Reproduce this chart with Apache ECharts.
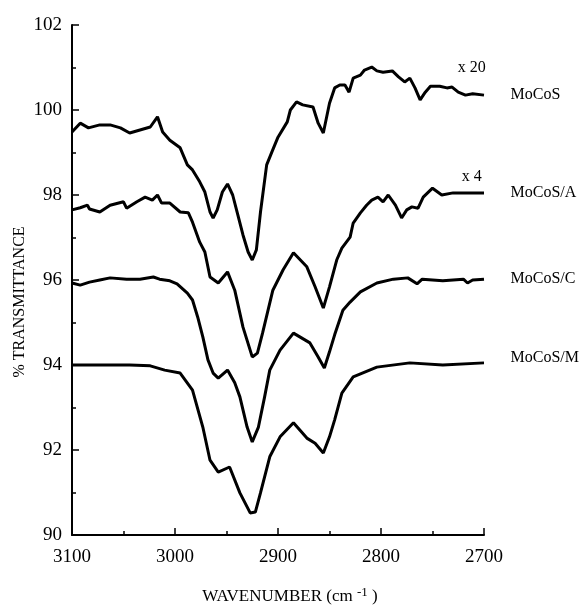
<!DOCTYPE html>
<html>
<head>
<meta charset="utf-8">
<script src="https://cdn.jsdelivr.net/npm/echarts@6/dist/echarts.min.js"></script>
<style>html,body{margin:0;padding:0;background:#fff}#c{width:580px;height:607px}</style>
</head>
<body>
<div id="c"></div>
<script>
// Wavenumbers (cm-1) and % transmittance
const mocos = [[3100,99.48],[3092,99.69],[3084,99.58],[3073,99.65],[3063,99.65],[3053,99.58],[3044,99.46],[3034,99.53],[3024,99.60],[3017,99.84],[3012,99.48],[3005,99.29],[2995,99.11],[2988,98.71],[2983,98.59],[2976,98.31],[2971,98.07],[2966,97.60],[2963,97.46],[2959,97.65],[2954,98.07],[2949,98.26],[2944,98.00],[2939,97.53],[2934,97.06],[2929,96.66],[2925,96.47],[2921,96.71],[2917,97.60],[2911,98.71],[2906,99.01],[2900,99.36],[2891,99.72],[2888,100.0],[2882,100.19],[2876,100.12],[2866,100.07],[2861,99.69],[2856,99.46],[2850,100.16],[2845,100.52],[2840,100.59],[2835,100.59],[2831,100.42],[2827,100.75],[2820,100.82],[2816,100.94],[2809,101.01],[2804,100.92],[2798,100.89],[2789,100.92],[2783,100.78],[2777,100.66],[2772,100.75],[2767,100.52],[2762,100.24],[2757,100.42],[2752,100.56],[2743,100.56],[2736,100.52],[2731,100.54],[2725,100.42],[2718,100.35],[2711,100.38],[2700,100.35]];
const mocosA = [[3100,97.65],[3092,97.70],[3085,97.76],[3083,97.67],[3073,97.60],[3063,97.76],[3050,97.84],[3047,97.69],[3037,97.84],[3029,97.95],[3022,97.88],[3017,98.00],[3013,97.81],[3005,97.81],[2995,97.60],[2987,97.58],[2983,97.36],[2976,96.89],[2971,96.66],[2966,96.07],[2958,95.93],[2949,96.19],[2942,95.76],[2934,94.89],[2925,94.19],[2920,94.28],[2915,94.75],[2905,95.76],[2895,96.24],[2885,96.64],[2872,96.31],[2864,95.84],[2856,95.34],[2850,95.84],[2843,96.47],[2838,96.75],[2830,97.01],[2827,97.34],[2820,97.58],[2814,97.76],[2809,97.88],[2803,97.95],[2798,97.84],[2793,98.00],[2786,97.76],[2780,97.46],[2775,97.65],[2770,97.72],[2764,97.69],[2759,97.95],[2750,98.16],[2741,98.00],[2730,98.05],[2717,98.05],[2700,98.05]];
const mocosC = [[3100,95.93],[3092,95.88],[3083,95.95],[3073,96.00],[3063,96.05],[3047,96.02],[3034,96.02],[3021,96.07],[3015,96.02],[3005,95.98],[2998,95.91],[2988,95.69],[2983,95.53],[2978,95.13],[2973,94.66],[2968,94.12],[2963,93.81],[2958,93.69],[2949,93.88],[2942,93.58],[2937,93.25],[2930,92.54],[2925,92.19],[2919,92.54],[2913,93.25],[2908,93.88],[2898,94.35],[2885,94.75],[2869,94.52],[2861,94.19],[2855,93.93],[2850,94.31],[2845,94.71],[2837,95.29],[2830,95.48],[2820,95.72],[2804,95.93],[2788,96.02],[2774,96.05],[2765,95.91],[2760,96.02],[2740,95.98],[2720,96.02],[2716,95.93],[2711,96.00],[2700,96.02]];
const mocosM = [[3100,94.00],[3073,94.00],[3044,94.00],[3024,93.98],[3010,93.88],[2995,93.81],[2983,93.41],[2973,92.54],[2966,91.76],[2958,91.48],[2947,91.60],[2937,90.99],[2927,90.52],[2922,90.54],[2917,90.99],[2908,91.84],[2898,92.31],[2885,92.64],[2872,92.28],[2864,92.16],[2856,91.93],[2850,92.31],[2845,92.71],[2838,93.34],[2827,93.72],[2804,93.95],[2772,94.05],[2740,94.00],[2700,94.05]];
const seriesNames = ['MoCoS','MoCoS/A','MoCoS/C','MoCoS/M'];
const scaleNotes = [['x 20',2712,100.99],['x 4',2712,98.42]];

const FONT = 'Liberation Serif';
const chart = echarts.init(document.getElementById('c'));
const all = [mocos, mocosA, mocosC, mocosM];
const series = all.map((d, i) => {
  const last = d[d.length - 1];
  const s = {
    name: seriesNames[i], type: 'line', data: d, showSymbol: false, silent: true,
    lineStyle: {color: '#000', width: 3}, itemStyle: {color: '#000'},
    animation: false,
    markPoint: {
      symbol: 'circle', symbolSize: 1, itemStyle: {color: 'rgba(0,0,0,0)'},
      label: {show: true, position: 'right', distance: 26, color: '#000', fontFamily: FONT, fontSize: 16},
      data: [{coord: last, value: seriesNames[i], label: {formatter: seriesNames[i], offset: [0, i === 3 ? -5 : 0]}}]
    }
  };
  if (i < 2) {
    s.markPoint.data.push({coord: [scaleNotes[i][1], scaleNotes[i][2]], label: {position: 'inside', distance: 0, formatter: scaleNotes[i][0]}});
  }
  return s;
});

chart.setOption({
  backgroundColor: '#fff',
  animation: false,
  grid: {left: 72, right: 96, top: 25, bottom: 72, containLabel: false, outerBoundsMode: 'none'},
  xAxis: {
    type: 'value', min: 2700, max: 3100, interval: 100, inverse: true,
    axisLine: {lineStyle: {color: '#000', width: 2}},
    axisTick: {inside: true, length: 7, lineStyle: {color: '#000', width: 1.5}},
    minorTick: {show: true, splitNumber: 2, length: 4, lineStyle: {color: '#000', width: 1.5}},
    splitLine: {show: false},
    axisLabel: {color: '#000', fontFamily: FONT, fontSize: 19, margin: 13, formatter: v => String(v)},
    name: 'WAVENUMBER (cm {sup|-1} )', nameLocation: 'middle', nameGap: 51,
    nameTextStyle: {color: '#000', fontFamily: FONT, fontSize: 17, padding: [0, 0, 0, 24],
      rich: {sup: {fontFamily: FONT, fontSize: 13, color: '#000', padding: [0, 0, 9, 0]}}}
  },
  yAxis: {
    type: 'value', min: 90, max: 102, interval: 2,
    axisLine: {show: true, lineStyle: {color: '#000', width: 2}},
    axisTick: {show: true, inside: true, length: 7, lineStyle: {color: '#000', width: 1.5}},
    minorTick: {show: true, splitNumber: 2, length: 4, lineStyle: {color: '#000', width: 1.5}},
    splitLine: {show: false},
    axisLabel: {color: '#000', fontFamily: FONT, fontSize: 19, margin: 10, formatter: v => String(v)},
    name: '% TRANSMITTANCE', nameLocation: 'middle', nameGap: 44, nameMoveOverlap: false,
    nameTextStyle: {color: '#000', fontFamily: FONT, fontSize: 16, padding: [0, 44, 0, 0]}
  },
  series: series
});
</script>
</body>
</html>
